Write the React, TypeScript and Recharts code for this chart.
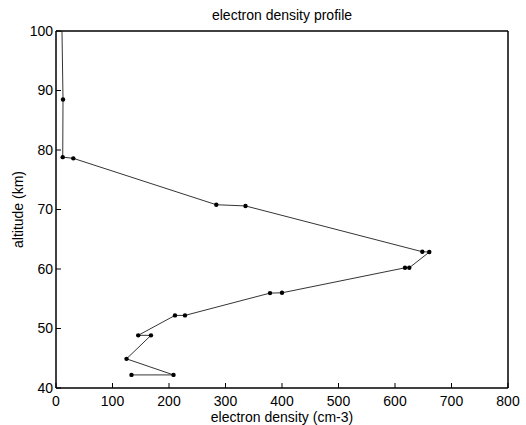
import { Line, LineChart, XAxis, YAxis } from "recharts";

// electron density (cm-3), top of the profile first
const density = [
  10.3, 12.4, 11.9, 30.6, 283.7, 335.4, 648.3, 660.7, 625.3, 617.7,
  400, 378.8, 228.3, 210.6, 145.5, 168.1, 124.8, 208, 133.6,
];
// altitude (km); the first point sits above the frame and is clipped
const altitude = [
  102, 88.5, 78.8, 78.6, 70.8, 70.6, 62.9, 62.85, 60.2, 60.2,
  56.0, 55.95, 52.2, 52.2, 48.85, 48.85, 44.9, 42.2, 42.2,
];

const xTicks = [0, 100, 200, 300, 400, 500, 600, 700, 800];
const yTicks = [40, 50, 60, 70, 80, 90, 100];

const data = density.map((ne, i) => ({ ne, alt: altitude[i] }));

const FONT = "'Liberation Sans', Arial, Helvetica, sans-serif";
const tickStyle = { fill: "#000", fontSize: 14, fontFamily: FONT };
const axisStroke = { stroke: "#000", strokeWidth: 1.5 };
const tickStroke = { stroke: "#000", strokeWidth: 1 };

export default function App() {
  return (
    <div style={{ position: "absolute", left: 0, top: 0, width: 526, height: 425, background: "#fff" }}>
      <LineChart
        width={526}
        height={425}
        data={data}
        margin={{ top: 30, right: 17, bottom: 0, left: 0 }}
        style={{ fontFamily: FONT }}
      >
        <XAxis
          dataKey="ne"
          type="number"
          domain={[0, 800]}
          ticks={xTicks}
          height={37}
          tick={tickStyle}
          tickSize={-5}
          tickMargin={13}
          axisLine={axisStroke}
          tickLine={tickStroke}
          label={{
            value: "electron density (cm-3)",
            position: "insideBottom",
            offset: 3,
            fill: "#000",
            fontSize: 14,
            fontFamily: FONT,
          }}
        />
        <XAxis
          xAxisId="top"
          orientation="top"
          type="number"
          domain={[0, 800]}
          ticks={xTicks}
          height={1}
          tick={false}
          tickSize={-5}
          axisLine={axisStroke}
          tickLine={tickStroke}
          label={{
            value: "electron density profile",
            position: "top",
            offset: 10,
            fill: "#000",
            fontSize: 14,
            fontFamily: FONT,
          }}
        />
        <YAxis
          dataKey="alt"
          type="number"
          domain={[40, 100]}
          allowDataOverflow
          ticks={yTicks}
          width={56}
          tick={tickStyle}
          tickSize={-5}
          tickMargin={8}
          axisLine={axisStroke}
          tickLine={tickStroke}
          label={{
            value: "altitude (km)",
            angle: -90,
            position: "insideLeft",
            offset: 18,
            fill: "#000",
            fontSize: 14,
            fontFamily: FONT,
            style: { textAnchor: "middle" },
          }}
        />
        <YAxis
          yAxisId="right"
          orientation="right"
          type="number"
          domain={[40, 100]}
          ticks={yTicks}
          width={1}
          tick={false}
          tickSize={-5}
          axisLine={axisStroke}
          tickLine={tickStroke}
        />
        <Line
          dataKey="alt"
          type="linear"
          stroke="#000"
          strokeWidth={0.8}
          dot={{ r: 2.2, fill: "#000", stroke: "none" }}
          activeDot={false}
          isAnimationActive={false}
        />
      </LineChart>
    </div>
  );
}
